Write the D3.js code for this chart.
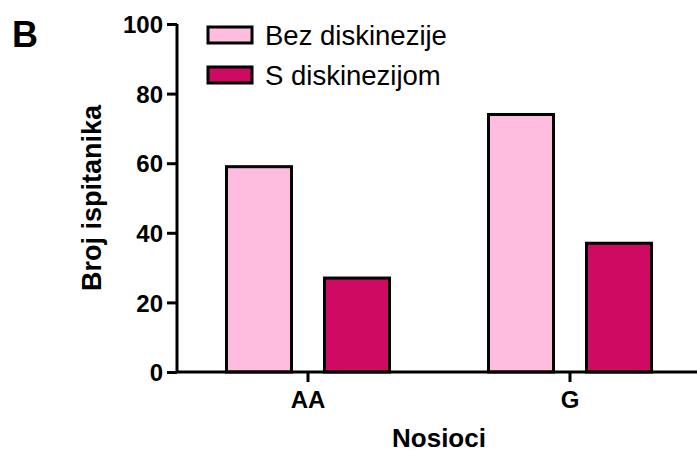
<!DOCTYPE html>
<html>
<head>
<meta charset="utf-8">
<script src="https://cdn.jsdelivr.net/npm/d3@7/dist/d3.min.js"></script>
<style>
  html, body { margin: 0; padding: 0; background: #fff; }
  svg { display: block; font-family: "Liberation Sans", Arial, sans-serif; }
</style>
</head>
<body>
<script>
// Genotype carriers and patient counts per group
const categories = ["AA", "G"];
const seriesNames = ["Bez diskinezije", "S diskinezijom"];
const bezDiskinezije = [59, 74];
const sDiskinezijom = [27, 37];
const yTicks = [0, 20, 40, 60, 80, 100];
const colors = ["#FEBDDE", "#CE0A63"];

const W = 697, H = 452;
const mLeft = 177, mBottom = 372, mTop = 24, mRight = 701;

const svg = d3.select("body").append("svg")
  .attr("width", W).attr("height", H);

const x = d3.scaleBand().domain(categories).range([mLeft, mRight]);
const y = d3.scaleLinear().domain([0, 100]).range([mBottom, mTop]);

const series = [bezDiskinezije, sDiskinezijom];
const barW = 65, inner = 33;

// bars
categories.forEach((c, i) => {
  const cx = x(c) + x.bandwidth() / 2;
  series.forEach((vals, s) => {
    const x0 = s === 0 ? cx - inner / 2 - barW : cx + inner / 2;
    svg.append("rect")
      .attr("x", x0)
      .attr("y", y(vals[i]))
      .attr("width", barW)
      .attr("height", y(0) - y(vals[i]))
      .attr("fill", colors[s])
      .attr("stroke", "#000")
      .attr("stroke-width", 3);
  });
});

// y axis
const yAxis = svg.append("g")
  .attr("transform", `translate(${mLeft},0)`)
  .call(d3.axisLeft(y).tickValues(yTicks).tickSize(10).tickPadding(4));
yAxis.select(".domain").attr("d", `M0,${mTop}V${mBottom}`).attr("stroke-width", 3);
yAxis.selectAll(".tick line").attr("stroke-width", 3);
yAxis.selectAll(".tick text")
  .attr("font-size", 24).attr("font-weight", "bold")
  .attr("font-family", "Liberation Sans, Arial, sans-serif")
  .attr("fill", "#000").attr("dy", "0.36em");

// x axis
const xAxis = svg.append("g")
  .attr("transform", `translate(0,${mBottom})`)
  .call(d3.axisBottom(x).tickSize(10).tickPadding(9));
xAxis.select(".domain").attr("d", `M${mLeft},0H${mRight}`).attr("stroke-width", 3);
xAxis.selectAll(".tick line").attr("stroke-width", 3);
xAxis.selectAll(".tick text")
  .attr("font-size", 24).attr("font-weight", "bold")
  .attr("font-family", "Liberation Sans, Arial, sans-serif")
  .attr("fill", "#000");

// axis titles
svg.append("text")
  .attr("transform", `translate(101,198) rotate(-90)`)
  .attr("text-anchor", "middle")
  .attr("font-size", 27).attr("font-weight", "bold")
  .text("Broj ispitanika");

svg.append("text")
  .attr("x", (mLeft + mRight) / 2).attr("y", 447)
  .attr("text-anchor", "middle")
  .attr("font-size", 26).attr("font-weight", "bold")
  .text("Nosioci");

// panel letter
svg.append("text")
  .attr("x", 12).attr("y", 47)
  .attr("font-size", 36).attr("font-weight", "bold")
  .text("B");

// legend
seriesNames.forEach((name, s) => {
  const cy = 35 + s * 40;
  svg.append("rect")
    .attr("x", 208).attr("y", cy - 8)
    .attr("width", 44).attr("height", 16)
    .attr("fill", colors[s]).attr("stroke", "#000").attr("stroke-width", 3);
  svg.append("text")
    .attr("x", 265).attr("y", cy + 10)
    .attr("font-size", 27.5)
    .text(name);
});
</script>
</body>
</html>
